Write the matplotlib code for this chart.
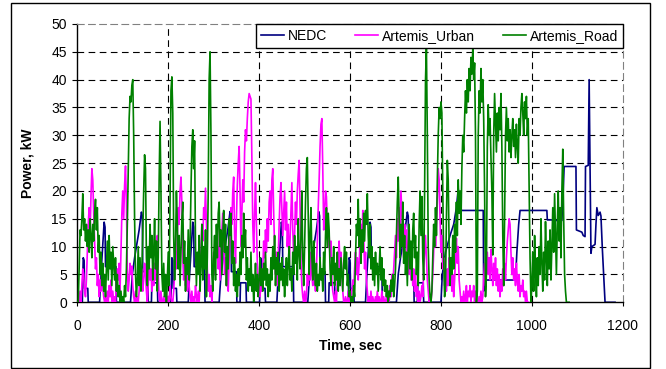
import numpy as np
import matplotlib
matplotlib.use("Agg")
import matplotlib.pyplot as plt
from matplotlib.patches import Rectangle

# NEDC: (time, power) break points
nedc_t = [0, 11, 13, 15, 16, 23, 24, 49, 52, 55, 59, 61, 62, 85, 86, 117, 121, 126, 131, 136, 141, 143, 144, 155, 156, 163, 164, 176, 177,
          195, 206, 208, 210, 211, 218, 219, 244, 247, 250, 254, 256, 257, 280, 281, 312, 316, 321, 326, 331, 336, 338, 339, 350, 351, 358, 359, 371, 372,
          390, 401, 403, 405, 406, 413, 414, 439, 442, 445, 449, 451, 452, 475, 476, 507, 511, 516, 521, 526, 531, 533, 534, 545, 546, 553, 554, 566, 567,
          585, 596, 598, 600, 601, 608, 609, 634, 637, 640, 644, 646, 647, 670, 671, 702, 706, 711, 716, 721, 726, 728, 729, 740, 741, 748, 749, 761, 762,
          780, 800, 803, 810, 820, 828, 834, 838, 841, 846, 893, 894, 897, 964, 967, 971, 974, 1033, 1034, 1046, 1048, 1050, 1066, 1069, 1071,
          1097, 1098, 1110, 1113, 1117, 1118, 1124, 1126, 1128, 1130, 1132, 1139, 1141, 1143, 1146, 1150, 1152, 1155, 1158, 1161, 1183]
nedc_kw = [0, 0, 8, 7.5, 2.5, 2.5, 0, 0, 5, 9, 14.4, 13.5, 6.4, 6.4, 0, 0, 5, 8, 10.5, 13, 16.2, 15.5, 5.5, 5.5, 0, 0, 3.5, 3.5, 0,
           0, 0, 8, 7.5, 2.5, 2.5, 0, 0, 5, 9, 14.4, 13.5, 6.4, 6.4, 0, 0, 5, 8, 10.5, 13, 16.3, 15.5, 5.5, 5.5, 0, 0, 3.5, 3.5, 0,
           0, 0, 8, 7.5, 2.5, 2.5, 0, 0, 5, 9, 14.4, 13.5, 6.4, 6.4, 0, 0, 5, 8, 10.5, 13, 16.3, 15.5, 5.5, 5.5, 0, 0, 3.5, 3.5, 0,
           0, 0, 8, 7.5, 2.5, 2.5, 0, 0, 5, 9, 14.4, 13.5, 6.4, 6.4, 0, 0, 5, 8, 10.5, 13, 16.2, 15.5, 5.5, 5.5, 0, 0, 3.5, 3.5, 0,
           0, 0, 5, 9, 12, 14, 17, 20.4, 17, 16.5, 16.5, 2, 4, 4, 9, 14, 16.5, 16.5, 14.8, 14.8, 15.4, 14.7, 14.7, 20, 24.4,
           24.4, 13, 12.6, 12, 11.8, 24.4, 24.6, 40, 24, 8.8, 10, 10.4, 14, 17, 15.6, 16.2, 15.5, 9.7, 5, 0, 0]

# Artemis_Urban: power every 2 s from t = 0
urban_kw = [0, 0, 0, 2, 0, 3, 6, 5, 2, 1, 4, 9, 14, 17, 12, 19, 24, 22, 16, 11,
            6, 8, 3, 5, 1, 4, 2, 6, 3, 1, 0, 1, 0, 2, 0, 3, 1, 4, 0, 2,
            0, 1, 0, 3, 6, 4, 7, 2, 9, 16, 20, 15, 21, 24.5, 18, 6, 2, 4, 7, 5,
            6.5, 3, 1, 0, 2, 0, 1, 0, 2, 5, 3, 6, 2, 4, 7, 5, 2, 0, 3, 7,
            4, 6, 2, 5, 3, 7, 4, 10, 12, 5, 1, 0, 2, 0, 0, 1, 0, 0, 2, 0,
            1, 0, 3, 1, 0, 0, 2, 5, 9, 6, 12, 17, 14, 20, 22.5, 18, 8, 4,
            7, 3, 5, 2, 6, 3, 1, 0, 2, 0, 1, 0, 3, 1, 0, 2, 0, 4, 9, 14,
            11, 17, 15, 20.5, 14, 6, 2, 5, 1, 3, 0, 4, 9, 5, 12, 8, 14, 6, 10, 4,
            9, 13, 16, 10, 5, 8, 3, 6, 2, 8, 12, 17, 14, 20, 22.5, 12, 7, 15, 21, 25,
            28, 20, 10, 16, 22, 18, 27, 31, 29, 33, 36, 37.5, 37, 36.5, 26, 14, 9, 16, 21.5, 14,
            7, 3, 5,
            1, 4, 2, 6, 11, 8, 13, 9, 15, 11, 18, 20, 14, 22, 24, 16, 10, 5, 9, 3,
            8, 14, 19, 21.5, 17, 12, 16, 20, 13, 18, 10, 14, 6, 11, 16, 21.5, 13, 8, 12, 18,
            14, 20, 23, 25.5, 17, 7, 3, 1, 0, 2, 0, 1, 5, 3, 7, 4, 9, 5, 3, 8,
            4, 2, 6, 11, 17, 22, 28, 32, 33, 24, 13, 16, 20, 19, 14, 10, 12, 8, 11, 4,
            2, 1, 0, 2, 0, 4, 8, 11, 6, 9, 5, 2, 0, 0, 1, 0, 0, 2, 0, 1,
            0, 2, 4, 2, 6, 9, 5, 8, 4, 7, 11, 14, 10, 16.5, 12, 6, 9, 4, 2, 0,
            1, 0, 2, 0, 1, 0, 0, 1, 0, 2, 0, 1, 0, 0, 2, 0, 1, 0, 0, 1,
            0, 2, 0, 3, 1, 5, 3, 6, 9, 12, 8, 15, 11, 17, 14, 20, 16, 12, 8, 14,
            10, 13, 7, 11, 5, 9, 4, 7, 3, 6, 2, 5, 1, 3, 0, 2, 0, 1, 3, 1,
            6, 9, 12, 8, 4, 2, 0, 1, 0, 2, 5, 9, 14, 10, 13, 18, 24, 22, 15, 9,
            12, 6, 8, 3, 5, 2, 6, 3, 8, 4, 7, 2, 5, 1, 4, 8, 11.5, 7, 10, 4,
            2, 0, 1, 0, 2, 0, 1, 3, 0, 2, 1, 3, 0, 2, 1, 3, 0, 2, 1, 0,
            0, 1, 0, 2, 0, 1, 4, 7, 3, 6, 9, 5, 8, 4, 9.5, 6, 3, 7, 4, 8,
            3, 6, 2, 5, 1, 4, 2, 6, 3, 7, 4, 8, 11, 13, 15, 14, 9, 5, 8, 4,
            6, 3, 7, 4, 2, 5, 1, 3, 2, 4, 1, 2, 0, 2, 0, 0]

# Artemis_Road: power every 2 s from t = 0
road_kw = [0, 0, 6, 13, 12, 15, 19.5, 13, 15, 11, 14, 10, 13, 9, 15, 12, 8, 14, 11, 16,
           18.5, 13, 17, 9, 12, 5, 9, 3, 7, 2, 5, 1, 6, 11, 4, 12, 6, 9, 3, 10,
           7, 4, 8, 2, 5, 1, 3, 0, 2, 0, 1, 0, 3, 1, 6, 14, 24, 33, 37, 36,
           39, 40, 30, 15, 5, 1,
           4, 10, 3, 8, 2, 6, 12, 20, 26.5, 24, 8, 3, 10, 6, 14, 8, 12, 4, 9, 15,
           6, 11, 2, 8, 22, 32.5, 20, 5, 2, 7, 1, 5, 0, 4, 9, 3, 18, 38, 40.5, 34,
           12, 4,
           10, 20, 14, 6, 12, 3, 9, 15, 18, 7, 11, 2, 8, 5, 13, 4, 10, 20, 28, 31,
           24, 29, 10, 3, 9, 5, 12, 2, 7, 14, 4, 10, 6, 13, 1, 8, 20, 40, 45, 30,
           5, 2, 8,
           12, 4, 14, 8, 16, 18, 10, 13, 5, 12, 16.5, 9, 14, 3, 10, 6, 15, 12, 16, 7,
           11, 3, 8, 2, 5, 1, 6, 3, 9, 5, 12, 8, 16, 10, 13, 4, 8, 2, 6, 3,
           9, 2, 5, 0, 3, 7, 2, 5, 1, 4, 8, 3, 6, 2, 7, 4, 9, 3, 6, 1,
           5, 2, 8, 4, 10, 6, 12, 3, 8, 5, 9, 2, 7, 4, 8, 3, 6, 1, 5, 8,
           3, 7, 10, 4, 6, 2, 9, 5, 12, 7,
           10, 4, 15, 9, 6, 12, 20, 8, 3, 10, 18, 24, 26, 15, 5, 12, 17, 8, 4, 11,
           6, 3, 7, 2, 5, 3, 8, 4, 6, 2, 9, 5, 12, 17, 10, 16, 13, 6, 3, 8,
           5, 10, 3, 7, 4, 9, 2, 6, 3, 8, 5, 2, 7, 10, 6, 9, 3, 5, 1, 2,
           0, 1, 0,
           3, 1, 8, 14, 12, 18.5, 10, 15, 7, 13, 9, 16, 11, 16.5, 14, 19.5, 12, 8, 14, 6,
           10, 4, 8, 3, 9, 5, 7, 2, 6, 10, 4, 8, 3, 6, 2, 4, 1, 3, 0, 2,
           1, 4, 2, 5, 1, 3, 6, 12, 18, 22.5, 15, 8, 14, 10, 18, 7, 12, 5, 9, 3,
           10, 14, 6, 11, 4, 13, 16, 8, 12, 5, 9, 3, 14, 20, 12, 19, 8, 4, 20, 40,
           46, 30, 10, 4, 1, 0, 2,
           8, 14, 10, 17, 12, 22, 30, 35, 33, 36, 34, 20, 8, 1, 3, 15, 25.5, 22, 10, 3,
           8, 5, 12, 6, 14, 9, 18, 12, 22, 16, 20, 14, 24, 30, 27, 33, 38, 34, 40, 36,
           42, 38, 44, 41, 45.5, 40, 43, 30, 0, 2, 30, 38, 34, 42, 36, 40, 33, 20, 1, 5,
           28, 35.5, 30, 33, 26, 20, 8.5, 30, 37.5, 32, 27, 34, 29, 35, 31, 37.5, 28, 12, 3, 15,
           30, 35, 29, 33, 27, 31, 26, 30, 33, 28, 31, 26, 32, 28, 25, 33, 30, 35, 37.5, 34,
           30, 36, 33, 37, 30, 33, 20, 8, 0, 3, 9, 2, 12, 6, 1, 8, 3, 10, 5, 15,
           7, 2, 9, 4, 14.5, 8, 3, 11, 6, 13, 4, 10, 17, 9, 19.5, 12, 5, 14, 20, 11,
           17, 8, 20, 27.5, 15, 5, 2, 0, 0, 0, 0]

urban_t = np.arange(len(urban_kw)) * 2
road_t = np.arange(len(road_kw)) * 2

plt.rcParams['font.family'] = ['Liberation Sans', 'DejaVu Sans']
plt.rcParams['font.size'] = 10

fig = plt.figure(figsize=(6.66, 3.69), dpi=100)
ax = fig.add_axes([0.1161, 0.1808, 0.819, 0.7542])

# グリッド(破線)
dash = (0, (6, 4))
for yv in range(5, 50, 5):
    ax.axhline(yv, color='black', lw=0.8, ls=dash, zorder=1)
for xv in range(200, 1200, 200):
    ax.axvline(xv, color='black', lw=0.8, ls=dash, zorder=1)

ax.plot(nedc_t, nedc_kw, color='#000080', lw=1.2, label='NEDC', zorder=2)
ax.plot(urban_t, urban_kw, color='#FF00FF', lw=1.2, label='Artemis_Urban', zorder=3)
ax.plot(road_t, road_kw, color='#008000', lw=1.2, label='Artemis_Road', zorder=4)

ax.set_xlim(0, 1200)
ax.set_ylim(0, 50)
ax.set_xticks(range(0, 1201, 200))
ax.set_yticks(range(0, 51, 5))
ax.tick_params(axis='y', direction='out', length=3.6, width=0.8, pad=4)
ax.tick_params(axis='x', direction='out', length=3, width=0.8, pad=9)

for side in ['top', 'right']:
    ax.spines[side].set_color('#808080')
    ax.spines[side].set_linestyle(dash)
    ax.spines[side].set_linewidth(0.8)
for side in ['left', 'bottom']:
    ax.spines[side].set_color('black')
    ax.spines[side].set_linewidth(1.0)

ax.set_xlabel('Time, sec', fontweight='bold', fontsize=10)
ax.xaxis.set_label_coords(0.5, -0.13)
ax.set_ylabel('Power, kW', fontweight='bold', fontsize=10)
ax.yaxis.set_label_coords(-0.079, 0.5)

leg = ax.legend(loc='upper right', bbox_to_anchor=(1, 1), ncol=3, frameon=True, fancybox=False,
                edgecolor='black', borderaxespad=0, handlelength=1.7, handletextpad=0.25,
                columnspacing=2.0, borderpad=0.35, fontsize=10)
leg.get_frame().set_linewidth(1.0)
leg.get_frame().set_alpha(1)
leg.set_zorder(10)

# 外枠
fig.patches.append(Rectangle((0.0165, 0.0035), 0.9595, 0.9885, transform=fig.transFigure,
                             fill=False, edgecolor='black', lw=1.0))

fig.savefig('out.png', dpi=100)
